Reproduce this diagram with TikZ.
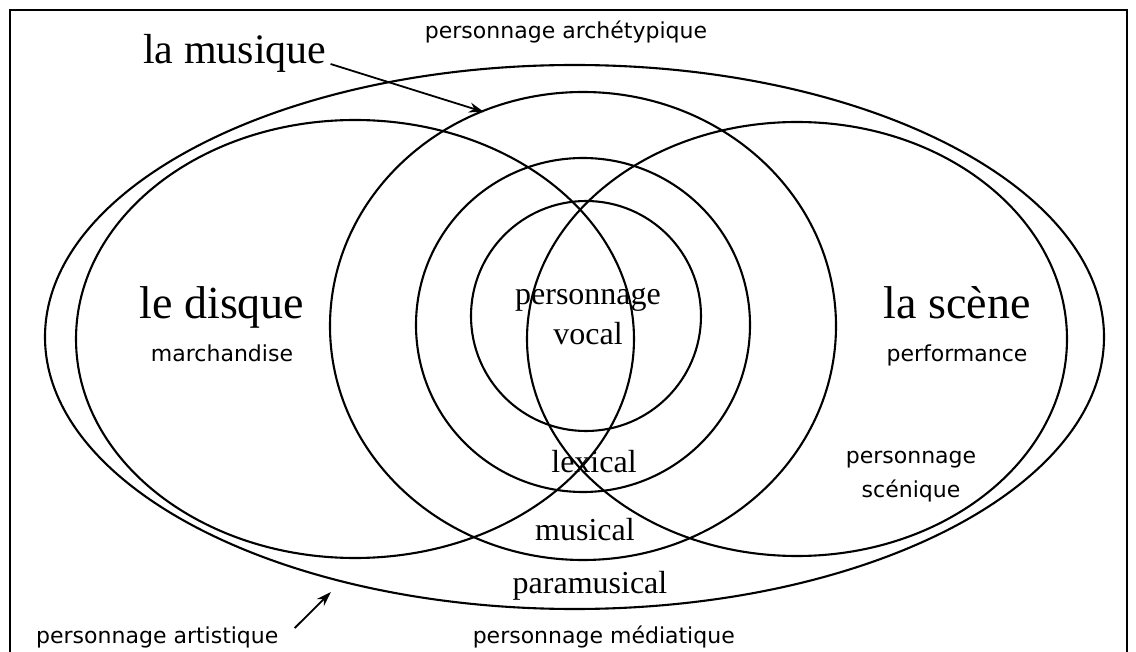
\documentclass[tikz,border=0pt]{standalone}
\usepackage{fontspec}
\newfontfamily\timesfont{Liberation Serif}
\newfontfamily\tahomafont{DejaVu Sans}
\usetikzlibrary{arrows.meta}

\begin{document}
\begin{tikzpicture}[
  x=1pt, y=-1pt,
  ring/.style={line width=2.1pt},
  arrow/.style={-{Stealth[length=15pt,width=10pt]}, line width=1.8pt},
  title/.style={font=\timesfont\fontsize{46}{50}\selectfont, inner sep=0pt},
  layer/.style={font=\timesfont\fontsize{32}{38}\selectfont, inner sep=0pt},
  note/.style={font=\tahomafont\fontsize{22}{26}\selectfont, inner sep=0pt},
]
  \useasboundingbox (0,0) rectangle (1136,652);
  % Frame
  \draw[line width=2.4pt] (10,660) -- (10,10) -- (1127,10) -- (1127,660);
  % Sets
  \draw[ring] (574.5,337) ellipse [x radius=529.5pt, y radius=272pt];
  \draw[ring] (355,339) ellipse [x radius=279pt, y radius=219pt];
  \draw[ring] (797,339) ellipse [x radius=270pt, y radius=217pt];
  \draw[ring] (583,326) ellipse [x radius=253pt, y radius=234pt];
  \draw[ring] (583,325) circle [radius=167pt];
  \draw[ring] (586,316) circle [radius=115pt];
  % Labels
  \node[title, font=\timesfont\fontsize{42}{46}\selectfont, anchor=base west]
    (musique) at (143,64) {la musique};
  \node[title, anchor=base] (disque) at (222,319) {le disque};
  \node[note, anchor=base] (marchandise) at (222,362) {marchandise};
  \node[title, anchor=base] (scene) at (957,319) {la scène};
  \node[note, anchor=base] (performance) at (957,362) {performance};
  \node[layer, anchor=base] (vocal) at (588,305) {personnage};
  \node[layer, anchor=base] (vocal2) at (588,345) {vocal};
  \node[layer, anchor=base] (lexical) at (594,472) {lexical};
  \node[layer, anchor=base] (musical) at (585,540) {musical};
  \node[layer, anchor=base] (paramusical) at (590,593) {paramusical};
  \node[note, anchor=base] (scenique) at (911,463) {personnage};
  \node[note, anchor=base] (scenique2) at (911,497) {scénique};
  \node[note, anchor=base] (archetypique) at (566,39)
    {personnage archétypique};
  \node[note, anchor=base west] (artistique) at (36,643)
    {personnage artistique};
  \node[note, anchor=base east] (mediatique) at (735,643)
    {personnage médiatique};
  % Arrows
  \coordinate (musiqueTip) at (484,112);
  \coordinate (artistiqueTip) at (331,592);
  \draw[arrow] ([xshift=4pt]musique.base east) -- (musiqueTip);
  \draw[arrow] ([xshift=16pt,yshift=-2pt]artistique.north east)
    -- (artistiqueTip);
\end{tikzpicture}
\end{document}
